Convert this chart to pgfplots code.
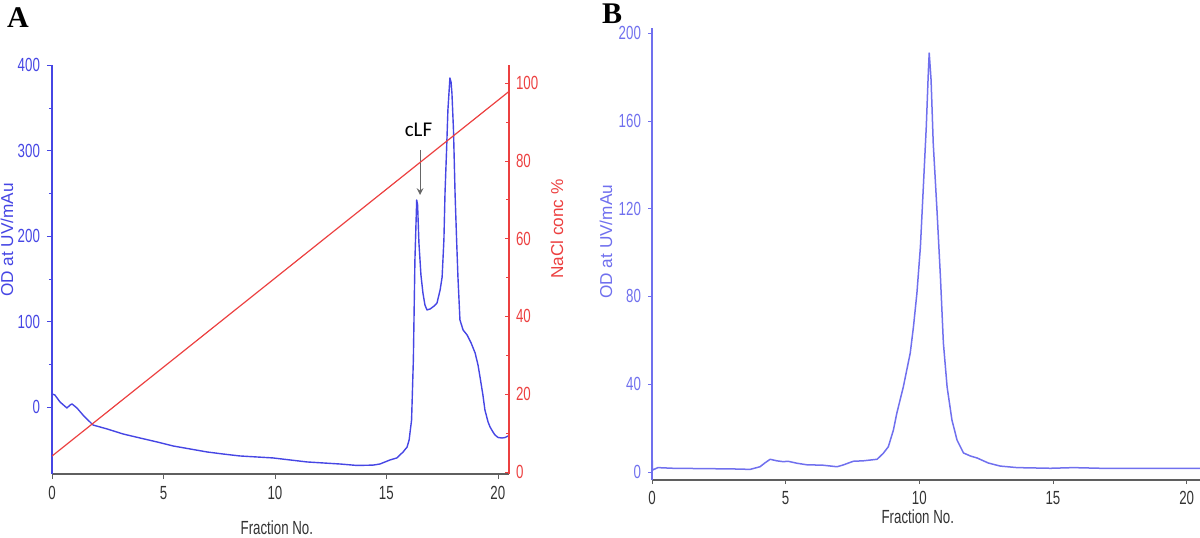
\documentclass[border=0pt]{standalone}
\usepackage{pgfplots}
\pgfplotsset{compat=1.18}
\usepackage{fontspec}
\setmainfont{Liberation Sans}
\newfontfamily\narrowfont[FakeStretch=0.7]{Liberation Sans}
\newfontfamily\serifbf{Liberation Serif}
\newfontfamily\calib{Carlito}
\definecolor{odblue}{RGB}{70,70,228}
\definecolor{lblue}{RGB}{112,112,238}
\definecolor{nacl}{RGB}{236,64,64}
\definecolor{axgray}{RGB}{95,95,95}
\begin{document}
\begin{tikzpicture}
\useasboundingbox (0,0) rectangle (600pt,268.5pt);
\pgfplotsset{
  tlab/.style={font=\narrowfont\fontsize{9.5}{9.5}\selectfont},
  /pgf/number format/assume math mode=true,
}
% ---------------- Panel A, left axis (OD) ----------------
\begin{axis}[
  at={(26pt,31.5pt)}, anchor=south west,
  scale only axis, width=228.5pt, height=204.5pt,
  xmin=0, xmax=20.5, ymin=-78.4, ymax=400,
  axis x line*=bottom, axis y line*=left,
  x axis line style={draw=axgray,-,line width=0.9pt},
  y axis line style={draw=odblue,-,line width=0.6pt},
  xtick={0,5,10,15,20}, ytick={0,100,200,300,400},
  minor ytick={50,150,250,350},
  tick align=outside, major tick length=2.5pt, minor tick length=1.5pt,
  y tick style={odblue}, x tick style={axgray},
  yticklabel style={tlab, text=odblue},
  xticklabel style={tlab, text=black!80},
  xlabel={Fraction No.},
  xlabel style={at={(axis description cs:0.492,-0.132)}, anchor=center, font=\narrowfont\fontsize{9.5}{9.5}\selectfont, text=black!80},
  ylabel={OD at UV/mAu},
  ylabel style={at={(axis description cs:-0.0985,0.572)}, anchor=center, font=\fontsize{8.6}{8.6}\selectfont, text=odblue},
]
\addplot[odblue, line width=0.7pt, line join=round] coordinates {
(0.01,15.2) (0.13,14.0) (0.36,5.8) (0.67,-1.2) (0.81,2.3) (0.90,3.5) (1.12,-1.2) (1.39,-9.4) (1.84,-21.1) (2.47,-25.7) (3.19,-31.6) (3.95,-36.3) (4.71,-40.9) (5.43,-45.6) (6.19,-49.1) (6.95,-52.6) (7.67,-55.0) (8.43,-57.3) (9.91,-59.6) (11.44,-64.3) (12.92,-66.7) (13.68,-68.4) (14.40,-68.0) (14.71,-66.7) (15.16,-62.0) (15.47,-59.6) (15.75,-52.6) (15.93,-46.8) (16.02,-38.6) (16.13,-15.2) (16.21,55.0) (16.28,171.9) (16.36,242.1) (16.40,236.3) (16.46,191.8) (16.55,154.4) (16.64,133.3) (16.73,119.3) (16.82,113.5) (16.96,114.6) (17.14,118.1) (17.27,121.6) (17.41,136.8) (17.50,152.0) (17.58,195.3) (17.63,250.3) (17.70,300.6) (17.76,347.4) (17.83,376.6) (17.85,384.8) (17.90,380.1) (17.94,367.3) (18.01,324.0) (18.08,250.3) (18.15,195.3) (18.21,152.0) (18.30,101.8) (18.44,90.1) (18.62,84.2) (18.80,74.9) (18.98,63.2) (19.11,49.1) (19.20,35.1) (19.33,14.0) (19.42,-3.5) (19.56,-17.5) (19.65,-23.4) (19.78,-29.2) (19.87,-32.7) (20.01,-35.7) (20.19,-36.3) (20.33,-35.7) (20.46,-33.9)
};
\node[font=\calib\fontsize{10.5}{10.5}\selectfont] at (axis cs:16.44,324) {cLF};
\draw[black!60, line width=0.5pt, -stealth] (axis cs:16.51,300.6) -- (axis cs:16.51,248);
\end{axis}
% ---------------- Panel A, right axis (NaCl) ----------------
\begin{axis}[
  at={(26pt,31.5pt)}, anchor=south west,
  scale only axis, width=228.5pt, height=204.5pt,
  xmin=0, xmax=20.5, ymin=-0.51, ymax=104.6,
  axis x line=none, axis y line*=right,
  y axis line style={draw=nacl,-,line width=0.6pt},
  ytick={0,20,40,60,80,100}, minor ytick={10,30,50,70,90},
  tick align=inside, major tick length=2pt, minor tick length=1.5pt,
  y tick style={nacl},
  yticklabel style={tlab, text=nacl},
  ylabel={NaCl conc \%},
  ylabel style={at={(axis description cs:1.105,0.599)}, anchor=center, font=\fontsize{8.6}{8.6}\selectfont, text=nacl},
]
\addplot[nacl, line width=0.6pt] coordinates {(0,4.1) (20.5,97.8)};
\end{axis}
% ---------------- Panel B ----------------
\begin{axis}[
  at={(326pt,28.5pt)}, anchor=south west,
  scale only axis, width=274pt, height=226pt,
  xmin=0, xmax=20.5, ymin=-3.64, ymax=202.3,
  axis x line*=bottom, axis y line*=left,
  x axis line style={draw=axgray,-,line width=0.9pt},
  y axis line style={draw=lblue,-,line width=0.6pt},
  xtick={0,5,10,15,20}, ytick={0,40,80,120,160,200},
  tick align=outside, major tick length=2pt,
  y tick style={lblue}, x tick style={axgray},
  yticklabel style={tlab, text=lblue},
  xticklabel style={tlab, text=black!80},
  xlabel={Fraction No.},
  xlabel style={at={(axis description cs:0.485,-0.082)}, anchor=center, font=\narrowfont\fontsize{9.5}{9.5}\selectfont, text=black!80},
  ylabel={OD at UV/mAu},
  ylabel style={at={(axis description cs:-0.084,0.527)}, anchor=center, font=\fontsize{8.6}{8.6}\selectfont, text=lblue},
]
\addplot[lblue, line width=0.75pt, line join=round] coordinates {
(0.00,9.0) (0.02,0.9) (0.22,2.0) (0.79,1.7) (3.03,1.4) (3.67,1.2) (4.04,2.4) (4.23,4.2) (4.42,5.8) (4.67,5.1) (4.91,4.7) (5.09,4.9) (5.42,4.0) (5.79,3.3) (6.40,3.1) (6.92,2.4) (7.15,3.2) (7.53,4.9) (7.90,5.1) (8.42,5.8) (8.65,8.5) (8.84,11.5) (9.03,19.1) (9.16,26.9) (9.40,38.7) (9.66,54.2) (9.78,66.1) (9.91,81.5) (10.04,102.5) (10.15,129.8) (10.26,157.2) (10.34,183.1) (10.37,190.9) (10.44,178.6) (10.52,149.9) (10.66,119.4) (10.79,88.8) (10.90,58.8) (11.04,38.7) (11.22,23.7) (11.41,14.6) (11.65,8.7) (11.91,7.3) (12.16,6.4) (12.58,4.1) (13.03,2.7) (13.66,2.0) (14.91,1.7) (15.77,2.0) (16.78,1.7) (20.50,1.7)
};
\end{axis}
% panel letters
\node[font=\serifbf\bfseries\fontsize{15}{15}\selectfont] at (9pt,259.5pt) {A};
\node[font=\serifbf\bfseries\fontsize{15}{15}\selectfont] at (306pt,261.5pt) {B};
\end{tikzpicture}
\end{document}
